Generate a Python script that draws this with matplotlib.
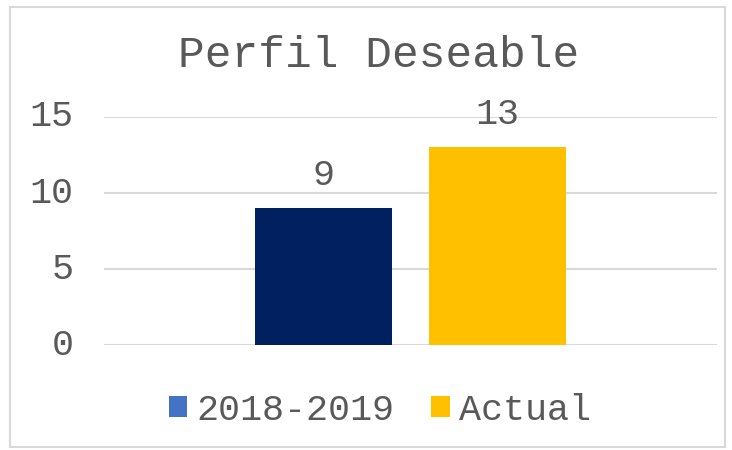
import matplotlib
matplotlib.use('Agg')
import matplotlib.pyplot as plt
import matplotlib.transforms as mtransforms
from matplotlib.patches import Patch, Rectangle

plt.rcParams['font.family'] = ['Liberation Mono', 'DejaVu Sans Mono']

title = 'Perfil Deseable'
series = ['2018-2019', 'Actual']
values = [9, 13]
bar_colors = ['#002060', '#FFC000']
legend_colors = ['#4472C4', '#FFC000']
yticks = [0, 5, 10, 15]

txt = '#595959'
grid = '#D9D9D9'

fig = plt.figure(figsize=(7.32, 4.5), dpi=100)
ax = fig.add_axes([0.142, 0.2333, 0.8375, 0.5067])

offsets = [-0.142, 0.142]
for off, v, c in zip(offsets, values, bar_colors):
    ax.bar(off, v, width=0.224, color=c, zorder=3)
    ax.text(off, v + 1.0, str(v), ha='center', va='bottom', fontsize=26.5, color=txt)

ax.set_xlim(-0.5, 0.5)
ax.set_ylim(0, 15)
ax.set_yticks(yticks)
ax.set_yticklabels([str(t) for t in yticks], fontsize=26.5, color=txt)
ax.set_xticks([])
ax.tick_params(axis='y', length=0, pad=22)
ax.grid(axis='y', color=grid, linewidth=1.5, zorder=0)
for s in ax.spines.values():
    s.set_visible(False)

# nudge tick labels up a few pixels
shift = mtransforms.ScaledTranslation(0, 4 / 100, fig.dpi_scale_trans)
for lab in ax.get_yticklabels():
    lab.set_transform(lab.get_transform() + shift)

fig.text(0.517, 0.876, title, ha='center', va='center', fontsize=32, color=txt)

handles = [Patch(facecolor=c, edgecolor='none') for c in legend_colors]
leg = fig.legend(handles, series, loc='center', bbox_to_anchor=(0.519, 0.088), ncol=2,
                 frameon=False, fontsize=26.5, handlelength=0.5, handleheight=0.5,
                 handletextpad=0.25, columnspacing=1.0, labelcolor=txt)

fig.patches.append(Rectangle((10 / 732, 3 / 450), 715 / 732, 440 / 450, transform=fig.transFigure,
                             fill=False, edgecolor=grid, linewidth=1.5))

fig.savefig('out.png', dpi=100)
